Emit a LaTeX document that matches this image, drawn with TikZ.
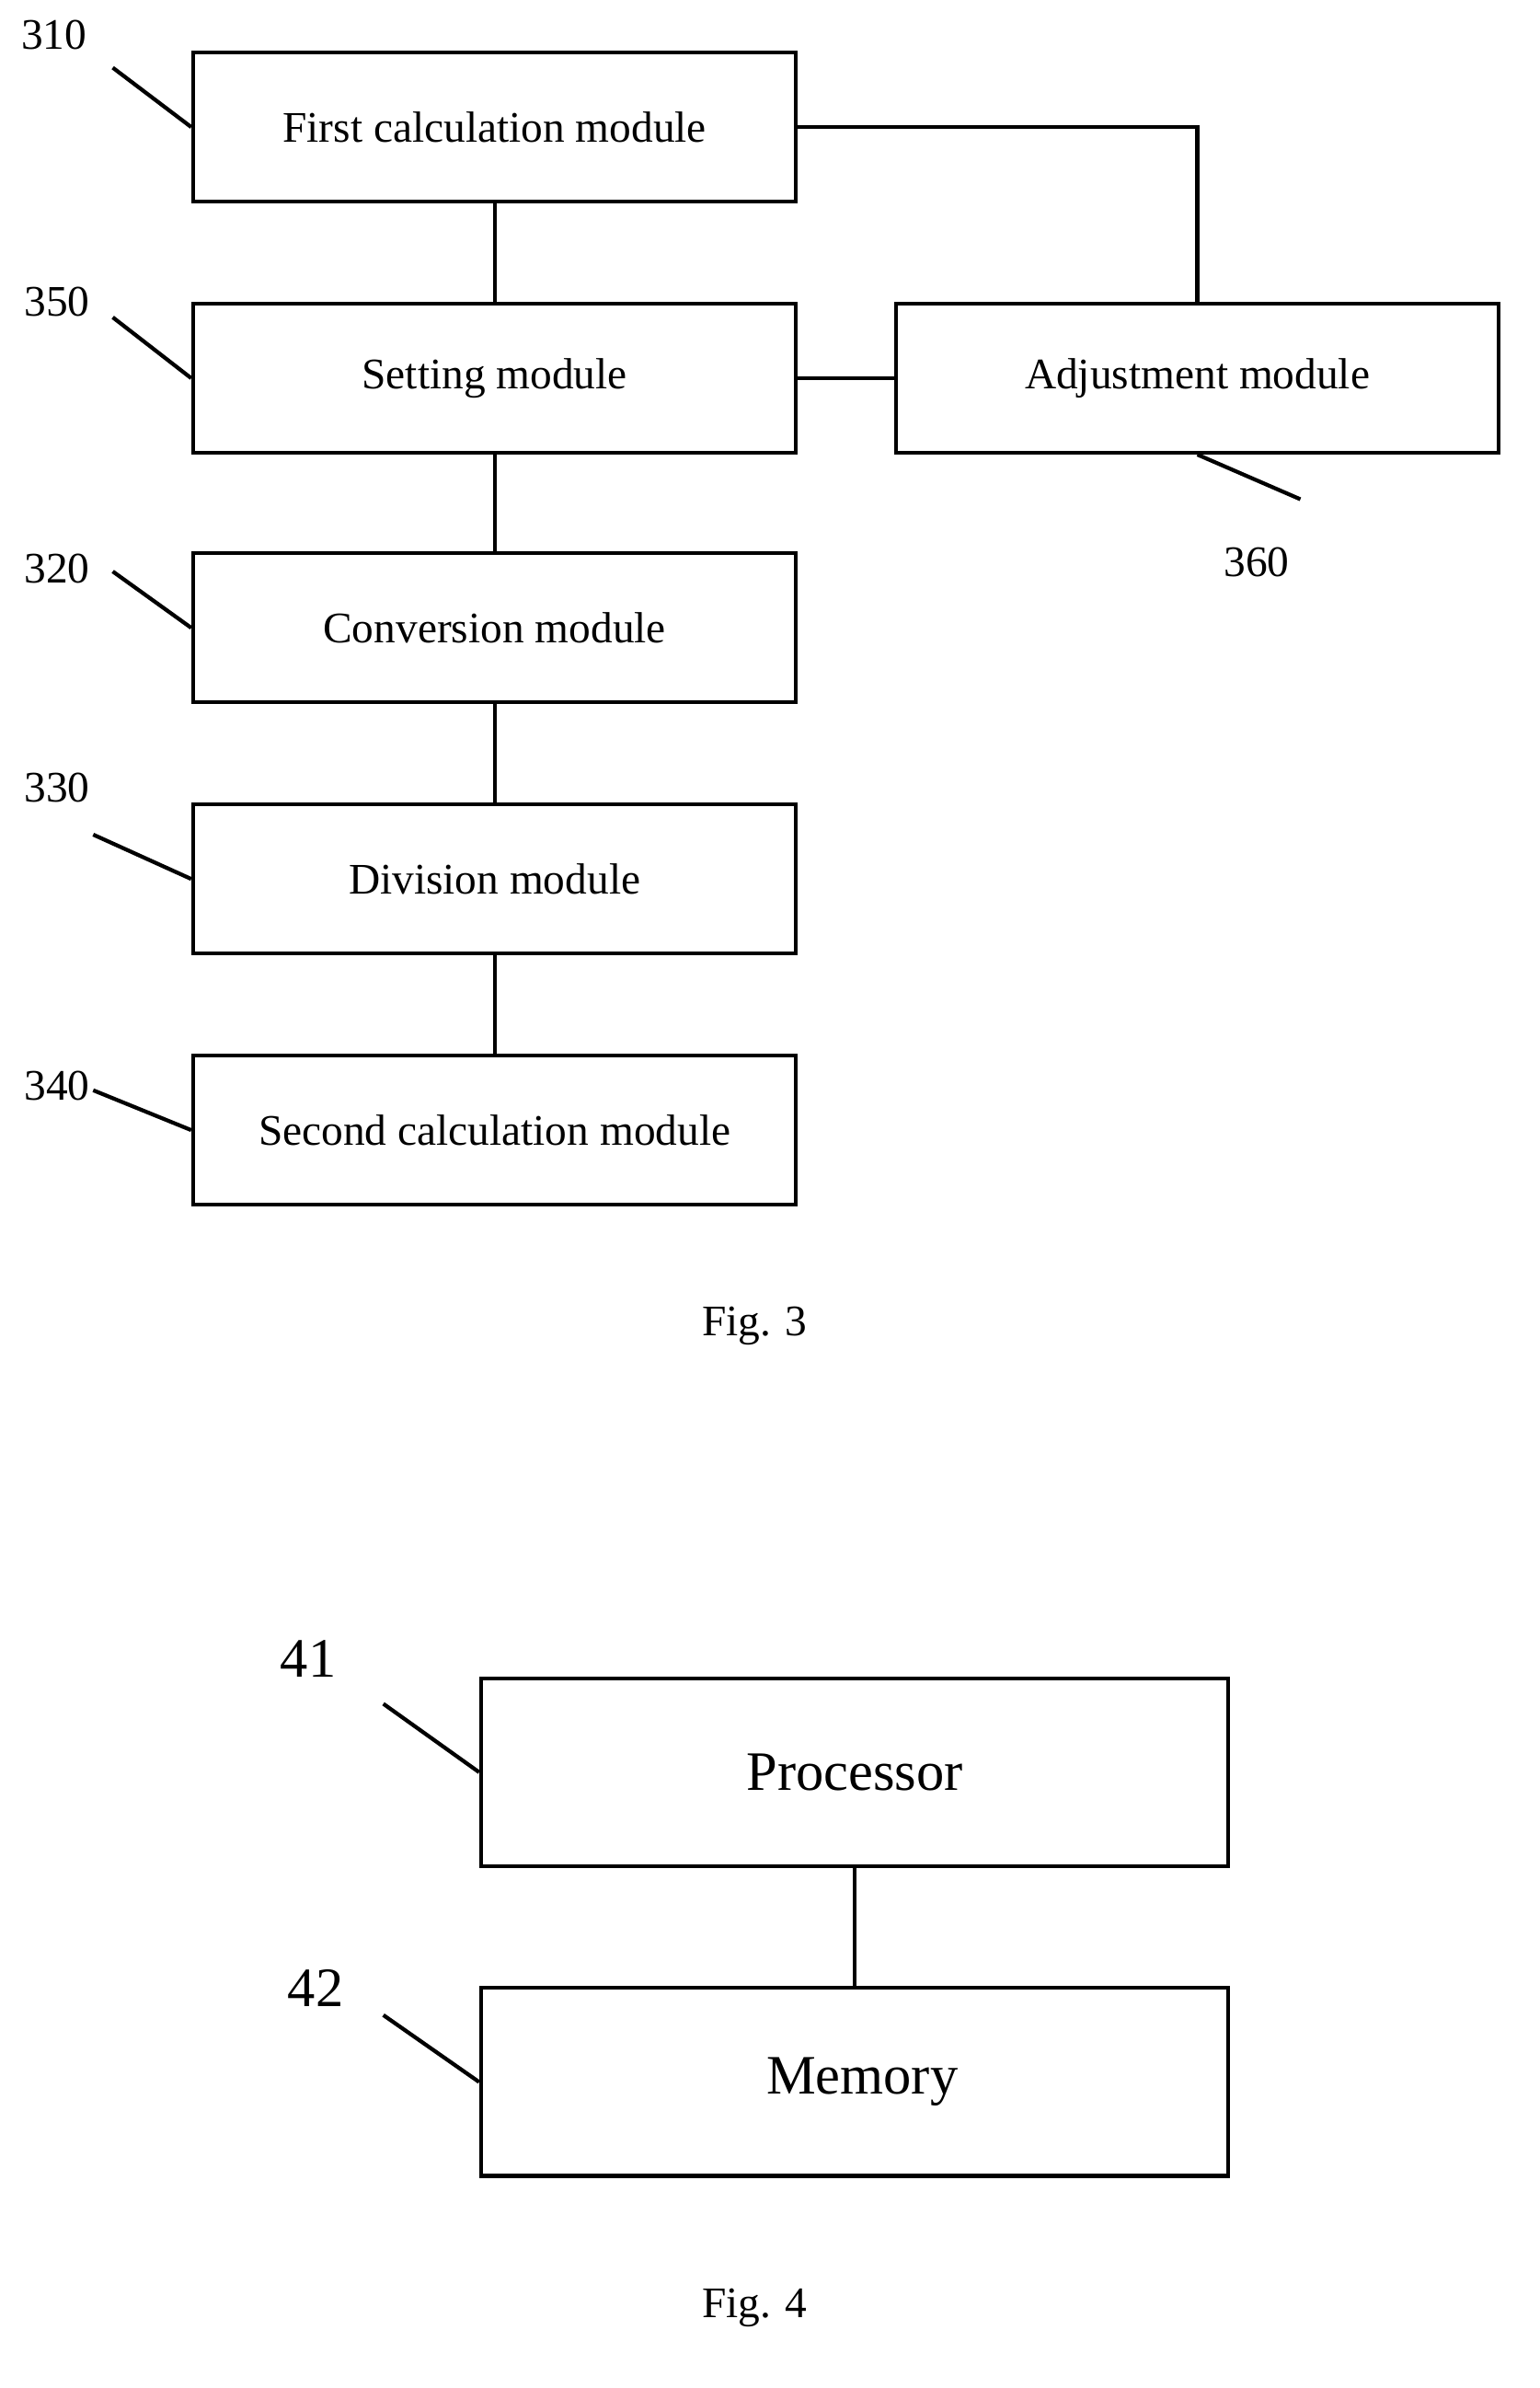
\documentclass[tikz,border=0pt]{standalone}
\usepackage{fontspec}
\setmainfont{Liberation Serif}
\begin{document}
\begin{tikzpicture}[x=1pt,y=-1pt,line width=2.6pt,
 box/.style={draw,minimum width=401pt,minimum height=99pt,inner sep=0pt,font=\fontsize{29}{34}\selectfont},
 bigbox/.style={draw,minimum width=497pt,minimum height=125pt,inner sep=0pt,font=\fontsize{37}{44}\selectfont},
 lab/.style={font=\fontsize{29}{34}\selectfont},
 biglab/.style={font=\fontsize{37}{44}\selectfont}]
\useasboundingbox (0,0) rectangle (1024,1588);
\node[box] (b310) at (329,84.5) {First calculation module};
\node[box] (b350) at (329,251.5) {Setting module};
\node[box] (b320) at (329,417.5) {Conversion module};
\node[box] (b330) at (329,584.5) {Division module};
\node[box] (b340) at (329,751.5) {Second calculation module};
\node[box] (b360) at (796.5,251.5) {Adjustment module};
\draw (b310)--(b350); \draw (b350)--(b320); \draw (b320)--(b330); \draw (b330)--(b340);
\draw (b350)--(b360);
\draw (b310.east) -| (b360.north);
\node[lab] (l310) at (36,23) {310};
\node[lab] (l350) at (38,201) {350};
\node[lab] (l320) at (38,378) {320};
\node[lab] (l330) at (38,524) {330};
\node[lab] (l340) at (38,722) {340};
\node[lab] (l360) at (836,374) {360};
\coordinate (c1) at (75,45); \draw (c1)--(b310.west);
\coordinate (c2) at (75,211); \draw (c2)--(b350.west);
\coordinate (c3) at (75,380); \draw (c3)--(b320.west);
\coordinate (c4) at (62,555); \draw (c4)--(b330.west);
\coordinate (c5) at (62,725); \draw (c5)--(b340.west);
\coordinate (c6) at (865,332); \draw (b360.south)--(c6);
\node[lab] (f3) at (502,882) {Fig. 3};
\node[bigbox] (p) at (568.5,1178.5) {Processor};
\node[bigbox] (m) at (568.5,1384.5) {\hspace*{10pt}Memory};
\draw (p)--(m);
\node[biglab] (l41) at (205,1103) {41};
\node[biglab] (l42) at (210,1322) {42};
\coordinate (c7) at (255,1133); \draw (c7)--(p.west);
\coordinate (c8) at (255,1340); \draw (c8)--(m.west);
\node[lab] (f4) at (502,1535) {Fig. 4};
\end{tikzpicture}
\end{document}
